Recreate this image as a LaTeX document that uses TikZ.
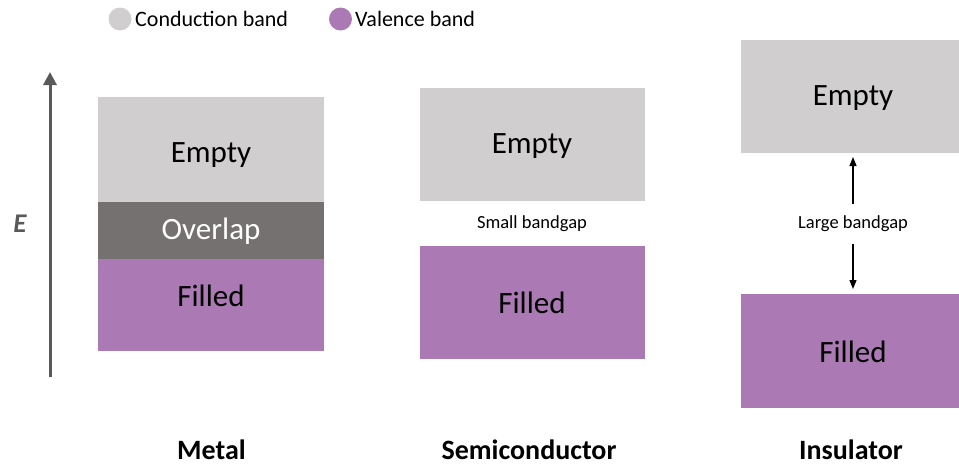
\documentclass[tikz,border=0pt]{standalone}
\usepackage{fontspec}
\setmainfont{Carlito}
\usetikzlibrary{arrows.meta}
\definecolor{cband}{HTML}{D0CECE}
\definecolor{vband}{HTML}{AB79B3}
\definecolor{ovl}{HTML}{767171}
\definecolor{axisgray}{HTML}{595959}
\tikzset{
  band/.style={draw=none, inner sep=0pt, anchor=north west},
  bigtxt/.style={font=\fontsize{31}{36}\selectfont, inner sep=0pt},
  smalltxt/.style={font=\fontsize{18.5}{22}\selectfont, inner sep=3pt},
  legtxt/.style={font=\fontsize{22}{26}\selectfont, inner sep=0pt, anchor=west},
  title/.style={font=\bfseries\fontsize{28}{32}\selectfont, inner sep=0pt},
  gaparrow/.style={line width=1.3pt, -{Triangle[width=7pt,length=9pt]}},
}
\begin{document}
\begin{tikzpicture}[x=1pt,y=-1pt]
\useasboundingbox (0,0) rectangle (959,466);
% legend
\node[circle, fill=cband, minimum size=23pt, inner sep=0pt] (legc) at (120,19) {};
\node[legtxt] (legct) at (135,19) {Conduction band};
\node[circle, fill=vband, minimum size=23pt, inner sep=0pt] (legv) at (340.5,19) {};
\node[legtxt] (legvt) at (355,19) {Valence band};
% energy axis
\coordinate (ebot) at (50,377);
\coordinate (etop) at (50,72);
\draw[axisgray, line width=3pt, -{Triangle[width=13pt,length=13pt]}] (ebot) -- (etop);
\node[font=\bfseries\itshape\fontsize{27}{30}\selectfont, text=axisgray, inner sep=0pt] (elab) at (20,224) {E};
% metal
\node[band, fill=cband, minimum width=226pt, minimum height=105pt] (mE) at (98,97) {};
\node[band, fill=ovl, minimum width=226pt, minimum height=57pt] (mO) at (98,202) {};
\node[band, fill=vband, minimum width=226pt, minimum height=92pt] (mF) at (98,259) {};
\node[bigtxt] (mEt) at (211,155) {Empty};
\node[bigtxt, text=white] (mOt) at (211,231) {Overlap};
\node[bigtxt] (mFt) at (211,296) {Filled};
% semiconductor
\node[band, fill=cband, minimum width=225pt, minimum height=113pt] (sE) at (420,88) {};
\node[band, fill=vband, minimum width=225pt, minimum height=113pt] (sF) at (420,246) {};
\node[bigtxt] (sEt) at (532,146) {Empty};
\node[bigtxt] (sFt) at (532,303) {Filled};
\node[smalltxt] (sgap) at (532,224) {Small bandgap};
% insulator
\node[band, fill=cband, minimum width=225pt, minimum height=113pt] (iE) at (741,40) {};
\node[band, fill=vband, minimum width=225pt, minimum height=114pt] (iF) at (741,294) {};
\node[bigtxt] (iEt) at (853,98) {Empty};
\node[bigtxt] (iFt) at (853,352) {Filled};
\node[smalltxt, inner sep=0pt] (igap) at (853,224) {Large bandgap};
\draw[gaparrow, shorten <=12pt, shorten >=4pt] (igap.north -| 853,0) -- (853,153);
\draw[gaparrow, shorten <=12pt, shorten >=5pt] (igap.south -| 853,0) -- (853,294);
% titles
\node[title] (tm) at (211.5,449.5) {Metal};
\node[title] (ts) at (529,449.5) {Semiconductor};
\node[title] (ti) at (851,449.5) {Insulator};
\end{tikzpicture}
\end{document}
